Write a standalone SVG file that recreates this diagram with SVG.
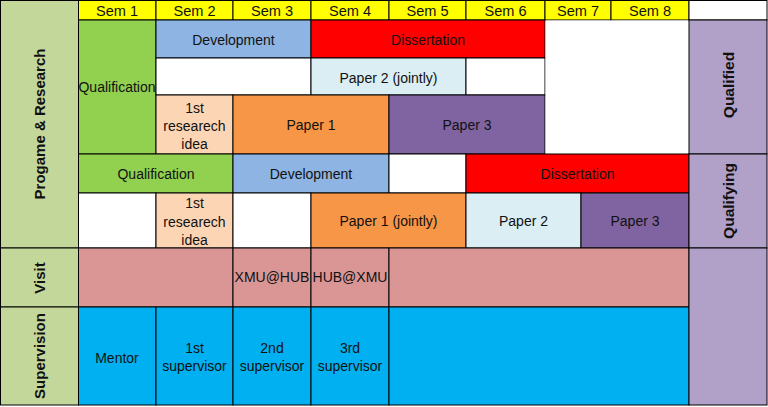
<svg xmlns="http://www.w3.org/2000/svg" width="768" height="407" viewBox="0 0 768 407">
<style>
rect{stroke:#000;stroke-width:1}
.nb{stroke:none}
.hdr{fill:#FFFF00}
.lab{fill:#C4D79B}
.side{fill:#B1A0C7}
.wh{fill:#FFFFFF}
.qual{fill:#92D050}
.dev{fill:#8DB4E2}
.dis{fill:#FF0000}
.p2{fill:#DAEEF3}
.idea{fill:#FCD5B4}
.p1{fill:#F79646}
.p3{fill:#8064A2}
.vis{fill:#DA9694}
.sup{fill:#00B0F0}
text{font-family:"Liberation Sans",Arial,sans-serif;font-size:14px;fill:#111;text-anchor:middle}
.h{font-size:14.6px}
.v{font-weight:bold;font-size:15px}
.v2{font-weight:bold;font-size:15.5px}
</style>
<rect class="wh nb" x="0" y="0" width="768" height="407"/>

<g id="header">
<rect class="hdr" x="78.5" y="0.5" width="77.5" height="19.5"/>
<rect class="hdr" x="156" y="0.5" width="77" height="19.5"/>
<rect class="hdr" x="233" y="0.5" width="78" height="19.5"/>
<rect class="hdr" x="311" y="0.5" width="78" height="19.5"/>
<rect class="hdr" x="389" y="0.5" width="77" height="19.5"/>
<rect class="hdr" x="466" y="0.5" width="79" height="19.5"/>
<rect class="hdr" x="545" y="0.5" width="66" height="19.5"/>
<rect class="hdr" x="611" y="0.5" width="78" height="19.5"/>
<rect class="wh" x="689" y="0.5" width="78" height="19.5"/>
<text class="h" x="117" y="16">Sem 1</text>
<text class="h" x="194.5" y="16">Sem 2</text>
<text class="h" x="272" y="16">Sem 3</text>
<text class="h" x="350" y="16">Sem 4</text>
<text class="h" x="427.5" y="16">Sem 5</text>
<text class="h" x="505.5" y="16">Sem 6</text>
<text class="h" x="578" y="16">Sem 7</text>
<text class="h" x="650" y="16">Sem 8</text>
</g>

<g id="label-programme">
<rect class="lab" x="0.5" y="0.5" width="78" height="247.5"/>
<text class="v" transform="translate(44.5,124) rotate(-90)">Progame &amp; Research</text>
</g>
<g id="label-visit">
<rect class="lab" x="0.5" y="248" width="78" height="59"/>
<text class="v" transform="translate(44.5,278) rotate(-90)">Visit</text>
</g>
<g id="label-supervision">
<rect class="lab" x="0.5" y="307" width="78" height="98"/>
<text class="v" transform="translate(44.5,356) rotate(-90)">Supervision</text>
</g>

<g id="track-qualified">
<rect class="qual" x="78.5" y="20" width="77.5" height="134"/>
<text x="117" y="92">Qualification</text>
<rect class="dev" x="156" y="20" width="155" height="38"/>
<text x="233.5" y="44.5">Development</text>
<rect class="dis" x="311" y="20" width="234" height="38"/>
<text x="428" y="44.5">Dissertation</text>
<rect class="wh" x="156" y="58" width="155" height="37"/>
<rect class="p2" x="311" y="58" width="155" height="37"/>
<text x="388.5" y="82.5">Paper 2 (jointly)</text>
<rect class="wh" x="466" y="58" width="79" height="37"/>
<rect class="idea" x="156" y="95" width="77" height="59"/>
<text x="194.5" y="113">1st</text>
<text x="194.5" y="131">researech</text>
<text x="194.5" y="149">idea</text>
<rect class="p1" x="233" y="95" width="156" height="59"/>
<text x="311" y="130">Paper 1</text>
<rect class="p3" x="389" y="95" width="156" height="59"/>
<text x="467" y="130">Paper 3</text>
<rect class="wh nb" x="545.5" y="20.5" width="143" height="133"/>
</g>

<g id="track-qualifying">
<rect class="qual" x="78.5" y="154" width="154.5" height="39"/>
<text x="156" y="179">Qualification</text>
<rect class="dev" x="233" y="154" width="156" height="39"/>
<text x="311" y="179">Development</text>
<rect class="wh" x="389" y="154" width="77" height="39"/>
<rect class="dis" x="466" y="154" width="223" height="39"/>
<text x="577.5" y="179">Dissertation</text>
<rect class="wh" x="78.5" y="193" width="77.5" height="55"/>
<rect class="idea" x="156" y="193" width="77" height="55"/>
<text x="194.5" y="208">1st</text>
<text x="194.5" y="227">researech</text>
<text x="194.5" y="245">idea</text>
<rect class="wh" x="233" y="193" width="78" height="55"/>
<rect class="p1" x="311" y="193" width="155" height="55"/>
<text x="388.5" y="226">Paper 1 (jointly)</text>
<rect class="p2" x="466" y="193" width="115" height="55"/>
<text x="523.5" y="226">Paper 2</text>
<rect class="p3" x="581" y="193" width="108" height="55"/>
<text x="635" y="226">Paper 3</text>
</g>

<g id="visit">
<rect class="vis" x="78.5" y="248" width="154.5" height="59"/>
<rect class="vis" x="233" y="248" width="78" height="59"/>
<text x="272" y="282">XMU@HUB</text>
<rect class="vis" x="311" y="248" width="78" height="59"/>
<text x="350" y="282">HUB@XMU</text>
<rect class="vis" x="389" y="248" width="300" height="59"/>
</g>

<g id="supervision">
<rect class="sup" x="78.5" y="307" width="77.5" height="98"/>
<text x="117" y="363">Mentor</text>
<rect class="sup" x="156" y="307" width="77" height="98"/>
<text x="194.5" y="353">1st</text>
<text x="194.5" y="371">supervisor</text>
<rect class="sup" x="233" y="307" width="78" height="98"/>
<text x="272" y="353">2nd</text>
<text x="272" y="371">supervisor</text>
<rect class="sup" x="311" y="307" width="78" height="98"/>
<text x="350" y="353">3rd</text>
<text x="350" y="371">supervisor</text>
<rect class="sup" x="389" y="307" width="300" height="98"/>
</g>

<g id="side-qualified">
<rect class="side" x="689" y="20" width="78" height="134"/>
<text class="v2" transform="translate(733.5,85) rotate(-90)">Qualified</text>
</g>
<g id="side-qualifying">
<rect class="side" x="689" y="154" width="78" height="94"/>
<text class="v2" transform="translate(733.5,201) rotate(-90)">Qualifying</text>
</g>
<g id="side-blank">
<rect class="side" x="689" y="248" width="78" height="157"/>
</g>

<g id="connectors"></g>
</svg>
